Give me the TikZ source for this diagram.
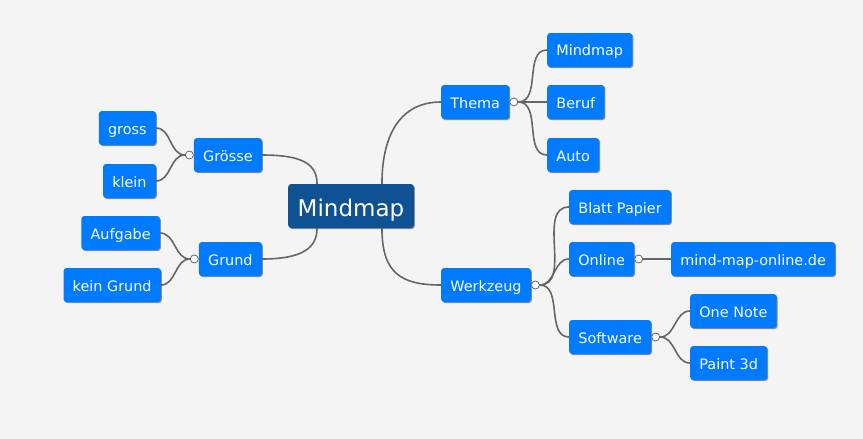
\documentclass[tikz,border=0pt]{standalone}
\usepackage{fontspec}
\setmainfont{DejaVu Sans}
\usetikzlibrary{positioning,shadows}

\definecolor{leafblue}{RGB}{0,122,255}
\definecolor{rootblue}{RGB}{14,82,148}
\definecolor{paper}{RGB}{244,244,244}
\definecolor{wire}{RGB}{102,102,102}

\begin{document}
\begin{tikzpicture}[x=1pt,y=-1pt,
  leaf/.style={rectangle,rounded corners=3pt,fill=leafblue,text=white,
    font=\fontsize{14.4}{16}\selectfont,inner xsep=9.2pt,inner ysep=0pt,
    text height=12pt,text depth=0pt,minimum height=34pt,
    drop shadow={shadow xshift=1pt,shadow yshift=-1pt,fill=black!45,opacity=1}},
  root/.style={leaf,fill=rootblue,font=\fontsize{23}{26}\selectfont,
    inner xsep=9.5pt,text height=21pt,minimum height=44pt},
  knob/.style={circle,draw=wire,fill=white,line width=0.8pt,
    minimum size=8pt,inner sep=0pt},
  branch/.style={draw=wire,line width=1.6pt}]

  \fill[paper] (0,0) rectangle (863,439);
  \useasboundingbox (0,0) rectangle (863,439);

  % centre
  \node[root] (C) at (351,206) {Mindmap};

  % right side
  \node[leaf,anchor=west] (thema)    at (441,102) {Thema};
  \node[leaf,anchor=west] (mind)     at (547,50)  {Mindmap};
  \node[leaf,anchor=west] (beruf)    at (547,102) {Beruf};
  \node[leaf,anchor=west] (auto)     at (547,155) {Auto};
  \node[leaf,anchor=west] (werkzeug) at (441,285) {Werkzeug};
  \node[leaf,anchor=west] (blatt)    at (569,207) {Blatt Papier};
  \node[leaf,anchor=west] (online)   at (569,259) {Online};
  \node[leaf,anchor=west] (mmo)      at (671,259) {mind-map-online.de};
  \node[leaf,anchor=west] (software) at (569,337) {Software};
  \node[leaf,anchor=west] (onenote)  at (690,311) {One Note};
  \node[leaf,anchor=west] (paint)    at (690,363) {Paint 3d};

  % left side
  \node[leaf,anchor=east] (groesse)   at (262,155) {Grösse};
  \node[leaf,anchor=east] (gross)     at (156,128) {gross};
  \node[leaf,anchor=east] (klein)     at (156,181) {klein};
  \node[leaf,anchor=east] (grund)     at (262,259) {Grund};
  \node[leaf,anchor=east] (aufgabe)   at (160,233) {Aufgabe};
  \node[leaf,anchor=east] (keingrund) at (161,285) {kein Grund};

  % knobs
  \node[knob,right=0pt of thema]    (thema-k)    {};
  \node[knob,right=0pt of werkzeug] (werkzeug-k) {};
  \node[knob,right=0pt of online]   (online-k)   {};
  \node[knob,right=0pt of software] (software-k) {};
  \node[knob,left=0pt of groesse]   (groesse-k)  {};
  \node[knob,left=0pt of grund]     (grund-k)    {};

  % main branches
  \draw[branch] ([xshift=-32pt]C.north east) .. controls +(0,-50) and +(-40,0) .. (thema.west);
  \draw[branch] ([xshift=-32pt]C.south east) .. controls +(0,45) and +(-40,0) .. (werkzeug.west);
  \draw[branch] ([xshift=29pt]C.north west) .. controls +(0,-20) and +(40,0) .. (groesse.east);
  \draw[branch] ([xshift=29pt]C.south west) .. controls +(0,20) and +(40,0) .. (grund.east);

  % sub branches
  \path[branch] (thema-k.east) edge[out=0,in=180] (mind.west)
                               edge[out=0,in=180] (beruf.west)
                               edge[out=0,in=180] (auto.west)
                (werkzeug-k.east) edge[out=0,in=180] (blatt.west)
                                  edge[out=0,in=180] (online.west)
                                  edge[out=0,in=180] (software.west)
                (online-k.east)   edge (mmo.west)
                (software-k.east) edge[out=0,in=180] (onenote.west)
                                  edge[out=0,in=180] (paint.west)
                (groesse-k.west)  edge[out=180,in=0] (gross.east)
                                  edge[out=180,in=0] (klein.east)
                (grund-k.west)    edge[out=180,in=0] (aufgabe.east)
                                  edge[out=180,in=0] (keingrund.east);
\end{tikzpicture}
\end{document}
